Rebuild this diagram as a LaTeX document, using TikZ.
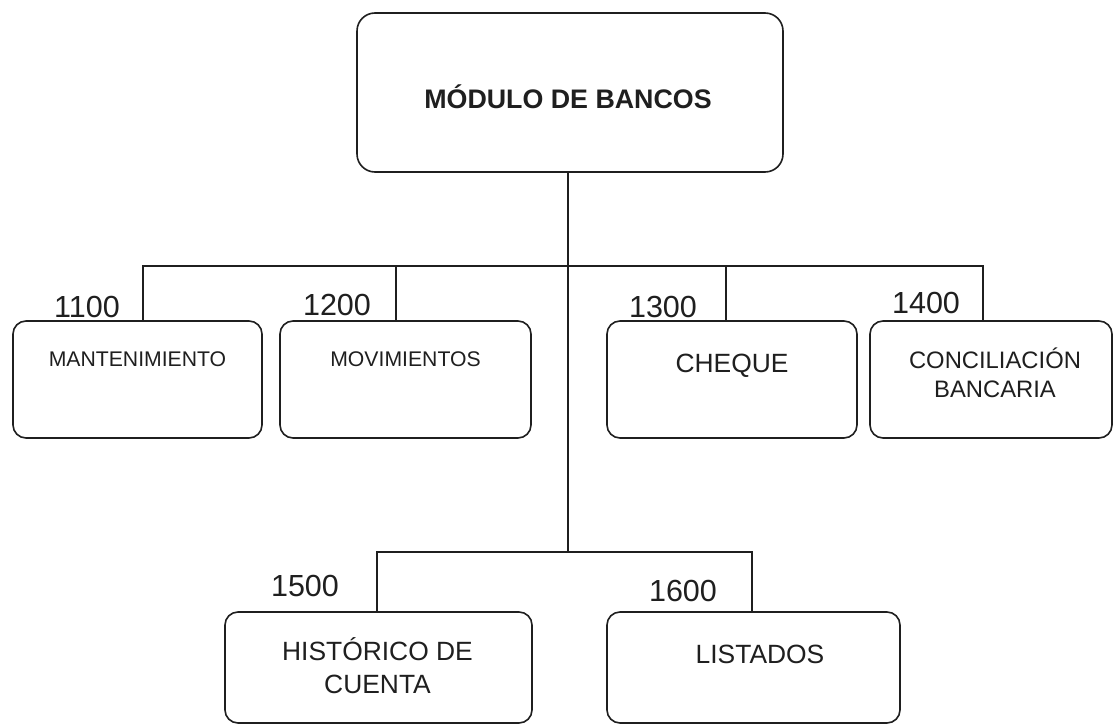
\documentclass[tikz,border=0pt]{standalone}
\usepackage{fontspec}
\setmainfont{Liberation Sans}
\begin{document}
\begin{tikzpicture}[x=1pt,y=-1pt,
  ink/.style={draw=black!88, line width=1.6pt},
  box/.style={ink, rounded corners=13pt, inner sep=0pt, minimum width=#1},
  rowbox/.style={box=#1, minimum height=117pt},
  lowbox/.style={box=#1, minimum height=111pt},
  wire/.style={ink, line cap=round},
  txt/.style={inner sep=0pt, anchor=base, text=black!88, align=center},
  num/.style={txt, font=\fontsize{30.5}{34}\selectfont},
]
\useasboundingbox[fill=white] (0,0) rectangle (1114,725);

% top box
\node[ink, rounded corners=18pt, minimum width=426pt, minimum height=159pt, inner sep=0pt] (top) at (570,92.5) {};
\node[txt, font=\bfseries\fontsize{26.8}{32}\selectfont] (ttop) at (568,108) {MÓDULO DE BANCOS};

% first row
\node[rowbox=249pt] (b1) at (137.5,379.5) {};
\node[rowbox=251pt] (b2) at (405.5,379.5) {};
\node[rowbox=250pt] (b3) at (732,379.5) {};
\node[rowbox=242pt] (b4) at (991,379.5) {};

\node[txt, font=\fontsize{21.2}{25}\selectfont] (t1) at (137.5,366.5) {MANTENIMIENTO};
\node[txt, font=\fontsize{21.2}{25}\selectfont] (t2) at (405.5,366.5) {MOVIMIENTOS};
\node[txt, font=\fontsize{26.4}{30}\selectfont] (t3) at (732,372) {CHEQUE};
\node[txt, font=\fontsize{23.8}{29}\selectfont] (t4) at (995,397) {CONCILIACIÓN\\BANCARIA};

\node[num] (n1) at (87,317) {1100};
\node[num] (n2) at (337,315) {1200};
\node[num] (n3) at (663,317) {1300};
\node[num] (n4) at (926,313) {1400};

% bottom row
\node[lowbox=307pt] (b5) at (378.5,667.5) {};
\node[lowbox=293pt] (b6) at (753.5,667.5) {};

\node[txt, font=\fontsize{26.4}{33}\selectfont] (t5) at (377.5,693) {HISTÓRICO DE\\CUENTA};
\node[txt, font=\fontsize{26.4}{33}\selectfont] (t6) at (760,663) {LISTADOS};

\node[num] (n5) at (305,596) {1500};
\node[num] (n6) at (683,601) {1600};

% connectors
\coordinate (r) at (568,266);
\coordinate (s) at (568,552);
\draw[wire] (top.south -| r) -- (s);
\draw[wire] ([xshift=5.5pt]b1.north) |- (r) -| ([xshift=-8pt]b4.north);
\draw[wire] ([xshift=-9.5pt]b2.north) -- ([xshift=-9.5pt]b2.north |- r);
\draw[wire] ([xshift=-6pt]b3.north) -- ([xshift=-6pt]b3.north |- r);
\draw[wire] ([xshift=-1.5pt]b5.north) |- (s) -| ([xshift=-1.5pt]b6.north);
\end{tikzpicture}
\end{document}
